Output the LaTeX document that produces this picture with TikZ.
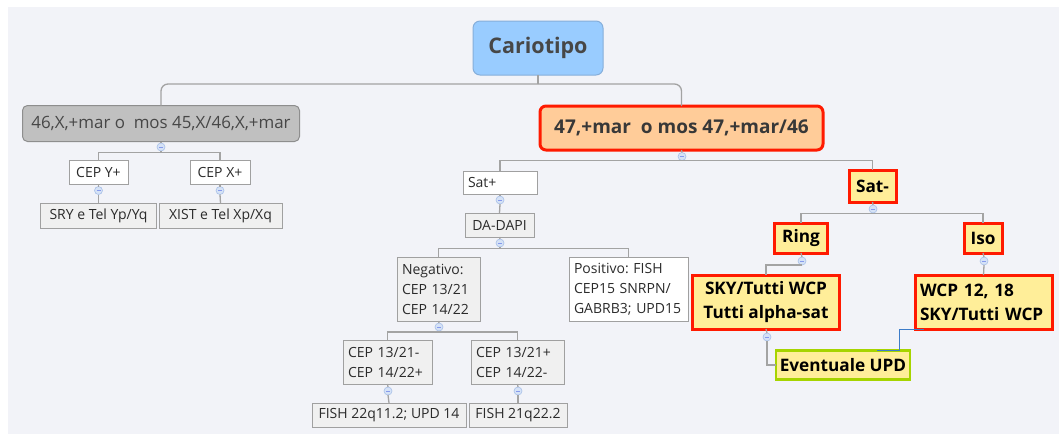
\documentclass[tikz,border=0pt]{standalone}
\usepackage{fontspec}
\setmainfont{Open Sans}
\begin{document}
\definecolor{bgc}{HTML}{F2F3F8}
\definecolor{linec}{HTML}{A3A3A3}
\definecolor{rootfill}{HTML}{99CCFF}
\definecolor{rootline}{HTML}{86AEDA}
\definecolor{grayfill}{HTML}{C0C0C0}
\definecolor{grayline}{HTML}{8E8E8E}
\definecolor{peach}{HTML}{FFCC99}
\definecolor{lemon}{HTML}{FFEE99}
\definecolor{alert}{HTML}{FF1A00}
\definecolor{lime}{HTML}{A6D400}
\definecolor{paleg}{HTML}{F0F0F0}
\definecolor{boxline}{HTML}{A0A0A0}
\definecolor{txt}{HTML}{2B2B2B}
\definecolor{togfill}{HTML}{D5E2F6}
\definecolor{togline}{HTML}{A8C0E8}
\definecolor{relc}{HTML}{3D7CC9}
\begin{tikzpicture}[x=1pt,y=-1pt,
  every node/.style={inner sep=0pt, outer sep=0pt, text=txt},
  small/.style={font=\fontsize{14}{20}\selectfont},
  plainbox/.style={draw=boxline, fill=white, line width=0.8pt, small},
  palebox/.style={draw=boxline, fill=paleg, line width=0.8pt, small},
  hotbox/.style={draw=alert, fill=lemon, line width=3pt, text=black,
    font=\fontsize{17.2}{24}\selectfont\bfseries},
  leftfit/.style 2 args={minimum width=#1, minimum height=#2, text width=#1-10pt, align=left},
  fit/.style 2 args={minimum width=#1, minimum height=#2, align=center},
  tog/.style={circle, draw=togline, fill=togfill, line width=0.6pt, minimum size=8pt,
    path picture={\draw[togline!80!blue, line width=0.6pt]
      ([xshift=-2pt]path picture bounding box.center) -- ([xshift=2pt]path picture bounding box.center);}},
  conn/.style={draw=linec, line width=1.3pt},
  rel/.style={draw=relc, line width=1pt}]
\useasboundingbox (0,0) rectangle (1059,434);
\fill[white] (0,0) rectangle (1059,434);
\fill[bgc] (8,7) rectangle (1059,434);

% root
\node[fit={130}{54}, draw=rootline, fill=rootfill, line width=1pt, rounded corners=7,
  font=\fontsize{21.5}{24}\selectfont\bfseries, text=black!72] (root) at (538,48) {Cariotipo};

% left branch
\node[fit={277}{36}, draw=grayline, fill=grayfill, line width=1pt, rounded corners=5,
  font=\fontsize{16.9}{20}\selectfont, text=black!72] (lmain) at (161,123.5) {46,X,+mar o\ \ mos 45,X/46,X,+mar};
\node[plainbox, fit={59}{24}] (cepy) at (98.5,172.5) {CEP Y+};
\node[plainbox, fit={60}{24}] (cepx) at (220,172.5) {CEP X+};
\node[palebox, fit={116}{25}] (sry) at (98.5,215.5) {SRY e Tel Yp/Yq};
\node[palebox, fit={123}{25}] (xist) at (220.5,215.5) {XIST e Tel Xp/Xq};

% right branch
\node[fit={283}{44}, draw=alert, fill=peach, line width=3pt, rounded corners=6,
  font=\fontsize{19}{22}\selectfont\bfseries, text=black!78] (rmain) at (681.5,128) {47,+mar\ \ o mos 47,+mar/46};
\node[plainbox, leftfit={74}{23}] (satp) at (500,182.5) {Sat+};
\node[palebox, fit={69}{24}] (dadapi) at (499.5,225) {DA-DAPI};
\node[palebox, leftfit={83}{64}] (neg) at (438.5,289) {Negativo:\\CEP~13/21\\CEP~14/22};
\node[plainbox, leftfit={119}{64}] (pos) at (628.5,289) {Positivo:~FISH\\CEP15~SNRPN/\\GABRB3;~UPD15};
\node[palebox, leftfit={89}{44}] (cm) at (387.5,362) {CEP~13/21-\\CEP~14/22+};
\node[palebox, leftfit={93}{44}] (cp) at (517.5,362) {CEP~13/21+\\CEP~14/22-};
\node[palebox, fit={154}{24}] (f22) at (389,415) {FISH 22q11.2; UPD 14};
\node[palebox, fit={98}{24}] (f21) at (518,415) {FISH 21q22.2};

\node[hotbox, fit={47}{32}] (satm) at (872.5,186) {Sat-};
\node[hotbox, fit={53}{30}] (ring) at (801,238) {Ring};
\node[hotbox, fit={38}{30}] (iso) at (983,238) {Iso};
\node[hotbox, fit={147}{54}] (sky) at (766,302) {SKY/Tutti WCP\\Tutti alpha-sat};
\node[hotbox, leftfit={137}{54}] (wcp) at (983.5,302) {WCP~12,~18\\SKY/Tutti~WCP};
\node[hotbox, draw=lime, line width=2.5pt, fit={134}{29}] (upd) at (843,365) {Eventuale UPD};

% collapse toggles
\node[tog] (tl) at (161,147) {};
\node[tog] (ty) at (98.5,190.5) {};
\node[tog] (tx) at (220,190.5) {};
\node[tog] (tr) at (682,156.5) {};
\node[tog] (tsp) at (500,200) {};
\node[tog] (tda) at (500,243) {};
\node[tog] (tneg) at (439,327) {};
\node[tog] (tcm) at (388,391) {};
\node[tog] (tcp) at (518,391) {};
\node[tog] (tsm) at (873,209) {};
\node[tog] (trg) at (802,261) {};
\node[tog] (tis) at (984,261) {};
\node[tog] (tsk) at (767,337) {};

% bar junctions
\coordinate (bar0) at (538,84);
\coordinate (barl) at (161,152.5);
\coordinate (barr) at (682,160.5);
\coordinate (barda) at (500,248.5);
\coordinate (barn) at (439,332);
\coordinate (bars) at (873,213.5);
\coordinate (barg) at (802,265);
\coordinate (relbend) at (899,340);

% connectors
\draw[conn] (root.south) -- (bar0);
\draw[conn, rounded corners=7] (bar0) -| (lmain.north);
\draw[conn, rounded corners=7] (bar0) -| (rmain.north);

\draw[conn] (lmain.south) -- (tl.north);
\draw[conn] (tl.south) -- (barl);
\draw[conn] (barl) -| (cepy.north);
\draw[conn] (barl) -| (cepx.north);
\draw[conn] (cepy.south) -- (ty.north);
\draw[conn] (ty.south) -- (sry.north);
\draw[conn] (cepx.south) -- (tx.north);
\draw[conn] (tx.south) -- (xist.north);

\draw[conn] (rmain.south) -- (tr.north);
\draw[conn] (tr.south) -- (barr);
\draw[conn] (barr) -| (satp.north);
\draw[conn] (barr) -| (satm.north);
\draw[conn] (satp.south) -- (tsp.north);
\draw[conn] (tsp.south) -- (dadapi.north);
\draw[conn] (dadapi.south) -- (tda.north);
\draw[conn] (tda.south) -- (barda);
\draw[conn] (barda) -| (neg.north);
\draw[conn] (barda) -| (pos.north);
\draw[conn] (neg.south) -- (tneg.north);
\draw[conn] (tneg.south) -- (barn);
\draw[conn] (barn) -| (cm.north);
\draw[conn] (barn) -| (cp.north);
\draw[conn] (cm.south) -- (tcm.north);
\draw[conn] (tcm.south) -- (f22.north);
\draw[conn] (cp.south) -- (tcp.north);
\draw[conn] (tcp.south) -- (f21.north);

\draw[conn] (satm.south) -- (tsm.north);
\draw[conn] (tsm.south) -- (bars);
\draw[conn] (bars) -| (ring.north);
\draw[conn] (bars) -| (iso.north);
\draw[conn] (ring.south) -- (trg.north);
\draw[conn] (trg.south) -- (barg);
\draw[conn] (barg) -| (sky.north);
\draw[conn] (iso.south) -- (tis.north);
\draw[conn] (tis.south) -- (wcp.north);
\draw[conn] (sky.south) -- (tsk.north);
\draw[conn] (tsk.south) |- (upd.west);

% relationship from WCP to UPD
\draw[rel] ([xshift=9pt]wcp.south west) -- (relbend |- wcp.south) -- (relbend |- upd.north) -- ([xshift=101pt]upd.north west);
\end{tikzpicture}
\end{document}
